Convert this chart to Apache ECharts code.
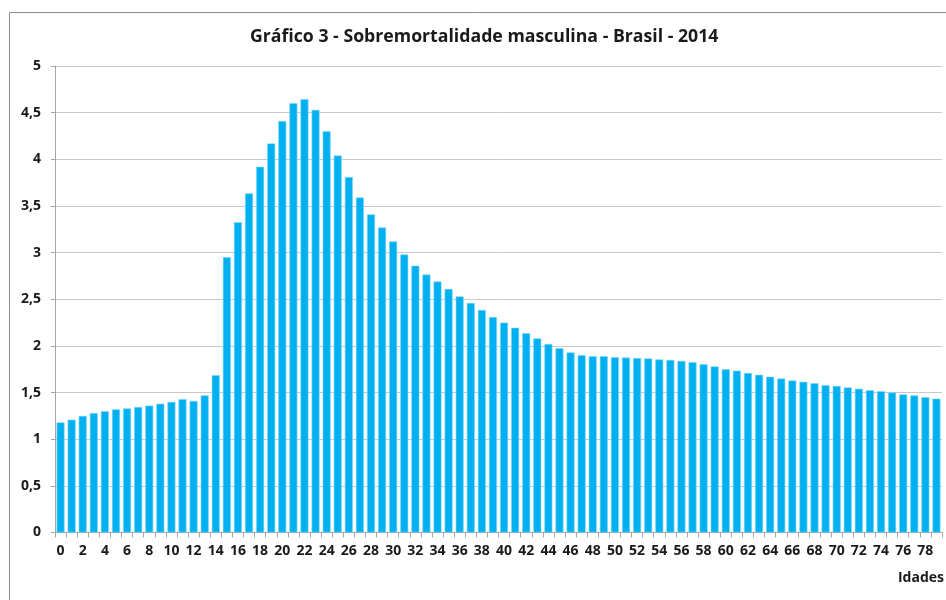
<!DOCTYPE html>
<html>
<head>
<meta charset="utf-8">
<script src="https://cdn.jsdelivr.net/npm/echarts@6/dist/echarts.min.js"></script>
<style>html,body{margin:0;padding:0;background:#fff}#c{width:946px;height:600px}</style>
</head>
<body>
<div id="c"></div>
<script>
const titleText = 'Gráfico 3 - Sobremortalidade masculina - Brasil - 2014';
const axisName = 'Idades';
const ages = Array.from({length: 80}, (_, i) => String(i));
const values = [
  1.18, 1.21, 1.25, 1.28, 1.30, 1.32, 1.33, 1.345, 1.36, 1.38,
  1.40, 1.43, 1.41, 1.47, 1.685, 2.95, 3.325, 3.635, 3.92, 4.17,
  4.41, 4.60, 4.645, 4.53, 4.30, 4.04, 3.81, 3.59, 3.41, 3.27,
  3.12, 2.98, 2.86, 2.765, 2.69, 2.61, 2.53, 2.46, 2.385, 2.31,
  2.25, 2.195, 2.135, 2.08, 2.02, 1.975, 1.93, 1.90, 1.89, 1.89,
  1.88, 1.875, 1.87, 1.865, 1.855, 1.85, 1.84, 1.825, 1.805, 1.78,
  1.75, 1.735, 1.71, 1.69, 1.67, 1.65, 1.63, 1.615, 1.60, 1.58,
  1.57, 1.555, 1.54, 1.525, 1.515, 1.50, 1.48, 1.47, 1.45, 1.435
];
const yTicks = [0, 0.5, 1, 1.5, 2, 2.5, 3, 3.5, 4, 4.5, 5];

const font = '"Open Sans", "Noto Sans", sans-serif';
const chart = echarts.init(document.getElementById('c'), null, {renderer: 'canvas'});
chart.setOption({
  animation: false,
  backgroundColor: '#fff',
  title: {
    text: titleText, left: 250, top: 28, padding: 0,
    textStyle: {fontFamily: font, fontWeight: 'bold', fontSize: 17.7, color: '#1a1a1a'}
  },
  graphic: [
    {type: 'rect', shape: {x: 9.5, y: 12.5, width: 960, height: 620}, style: {fill: 'none', stroke: '#8c8c8c', lineWidth: 1}, silent: true, z: -1},
    {type: 'text', right: 2, top: 571, style: {text: axisName, font: 'bold 14px ' + font, fill: '#1a1a1a'}}
  ],
  grid: {left: 55, right: 4, top: 66, bottom: 67.5, containLabel: false},
  xAxis: {
    type: 'category', data: ages,
    axisLine: {show: true, lineStyle: {color: '#a6a6a6', width: 1}},
    axisTick: {show: true, length: 5, interval: 0, lineStyle: {color: '#a6a6a6'}},
    axisLabel: {interval: 1, margin: 12, fontFamily: font, fontWeight: 'bold', fontSize: 14, color: '#1a1a1a'}
  },
  yAxis: {
    type: 'value', min: 0, max: 5, interval: 0.5,
    axisLine: {show: true, lineStyle: {color: '#a6a6a6', width: 1}},
    axisTick: {show: true, length: 4, lineStyle: {color: '#a6a6a6'}},
    splitLine: {show: true, lineStyle: {color: '#c8c8c8', width: 1}},
    axisLabel: {margin: 14, fontFamily: font, fontWeight: 'bold', fontSize: 14, color: '#1a1a1a',
      formatter: v => String(v).replace('.', ',')}
  },
  series: [{
    type: 'bar', data: values, barCategoryGap: '28%',
    itemStyle: {color: '#00B0F0', borderColor: '#7fd6f7', borderWidth: 0.6}
  }]
});
</script>
</body>
</html>
